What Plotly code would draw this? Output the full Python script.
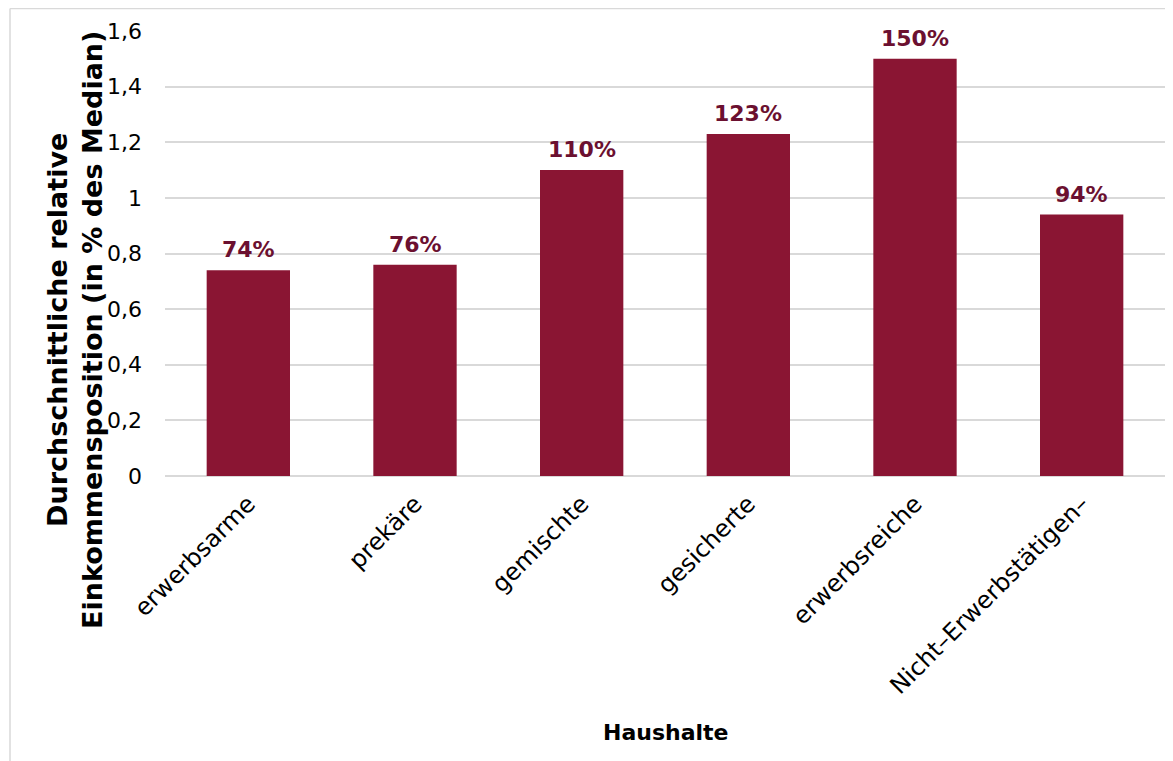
import plotly.graph_objects as go

# Household types and their average relative income position (share of median)
CATEGORIES = ["erwerbsarme", "prekäre", "gemischte", "gesicherte", "erwerbsreiche", "Nicht–Erwerbstätigen–"]
VALUES = [0.74, 0.76, 1.10, 1.23, 1.50, 0.94]
Y_TICKS = [0, 0.2, 0.4, 0.6, 0.8, 1, 1.2, 1.4, 1.6]

BAR_COLOR = "#8A1533"
LABEL_COLOR = "#6B1030"
GRID = "#d9d9d9"
FONT = "DejaVu Sans"

# the page body adds an 8px margin, so the figure is sized/offset to compensate
OFF = 8
W, H = 1173 - OFF, 761 - OFF
L, R, T, B = 165 - OFF, 8, 31 - OFF, 285

fig = go.Figure()
fig.add_bar(
    x=CATEGORIES,
    y=VALUES,
    marker=dict(color=BAR_COLOR, line=dict(width=0)),
    hoverinfo="x+y",
)

# value labels above the bars
for cat, val in zip(CATEGORIES, VALUES):
    fig.add_annotation(
        x=cat, y=val, text=f"<b>{val:.0%}</b>", showarrow=False,
        yanchor="bottom", yshift=6,
        font=dict(family=FONT, size=22, color=LABEL_COLOR),
    )

fig.update_layout(
    width=W,
    height=H,
    margin=dict(l=L, r=R, t=T, b=B),
    plot_bgcolor="white",
    paper_bgcolor="white",
    separators=", ",
    bargap=0.5,
    showlegend=False,
    font=dict(family=FONT, size=22, color="#000000"),
)
fig.update_xaxes(
    tickangle=-45,
    tickfont=dict(family=FONT, size=24),
    showline=False,
    ticks="",
    ticklabelstandoff=8,
)
fig.update_yaxes(
    range=[0, 1.6],
    tickvals=Y_TICKS,
    tickfont=dict(family=FONT, size=22),
    gridcolor=GRID,
    gridwidth=1.5,
    zeroline=True,
    zerolinecolor=GRID,
    zerolinewidth=1.5,
    ticks="",
    ticklabelstandoff=22,
)

plot_w = W - L - R
plot_h = H - T - B

fig.add_annotation(
    xref="paper", yref="paper",
    x=(75 - 165) / plot_w, y=1 - (330 - 31) / plot_h,
    text="<b>Durchschnittliche relative<br>Einkommensposition (in % des Median)</b>",
    textangle=-90, showarrow=False, xanchor="center", yanchor="middle",
    font=dict(family=FONT, size=27),
)
fig.add_annotation(
    xref="paper", yref="paper",
    x=(666 - 165) / plot_w, y=1 - (732 - 31) / plot_h,
    text="<b>Haushalte</b>", showarrow=False, xanchor="center", yanchor="middle",
    font=dict(family=FONT, size=22),
)

# thin light frame around the chart area (left and top edges)
x_left = (10 - 165) / plot_w
y_top = 1 + (T - 0.5) / plot_h
y_bottom = 1 - (H - T) / plot_h
fig.add_shape(type="line", xref="paper", yref="paper", x0=x_left, x1=x_left, y0=y_bottom, y1=y_top,
              line=dict(color=GRID, width=1.5))
fig.add_shape(type="line", xref="paper", yref="paper", x0=x_left, x1=1 + R / plot_w, y0=y_top, y1=y_top,
              line=dict(color=GRID, width=1.5))

fig.write_html("out.html")
